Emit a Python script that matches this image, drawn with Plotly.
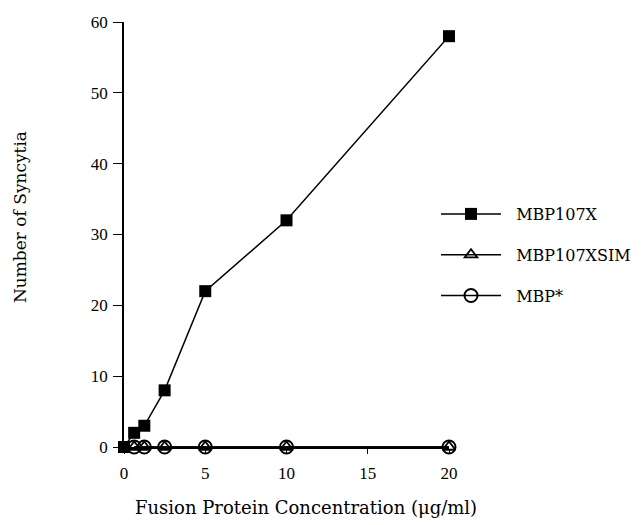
import plotly.graph_objects as go

conc_x = [0, 0.625, 1.25, 2.5, 5, 10, 20]
mbp107x = [0, 2, 3, 8, 22, 32, 58]
conc_zero = [0.625, 1.25, 2.5, 5, 10, 20]
mbp107xsim = [0, 0, 0, 0, 0, 0]
mbp_star = [0, 0, 0, 0, 0, 0]

FONT = "DejaVu Serif"
TICKFONT = "Liberation Serif"
NB = "\u00a0\u00a0"

FIG_W = 700

fig = go.Figure()
fig.add_trace(go.Scatter(
    x=conc_zero, y=mbp_star, name=NB + "MBP*", mode="lines+markers",
    line=dict(color="black", width=1.5),
    marker=dict(symbol="circle-open", size=13, color="black", line=dict(width=2)),
    cliponaxis=False, legendgroup="c", legendrank=3))
fig.add_trace(go.Scatter(
    x=conc_zero, y=mbp107xsim, name=NB + "MBP107XSIM", mode="lines+markers",
    line=dict(color="black", width=1.5),
    marker=dict(symbol="triangle-up-open", size=11, color="black", line=dict(width=1.8)),
    cliponaxis=False, legendgroup="b", legendrank=2))
fig.add_trace(go.Scatter(
    x=conc_x, y=mbp107x, name=NB + "MBP107X", mode="lines+markers",
    line=dict(color="black", width=1.5),
    marker=dict(symbol="square", size=12, color="black"),
    cliponaxis=False, legendgroup="a", legendrank=1))

fig.update_layout(
    width=FIG_W, height=525,
    margin=dict(l=124, r=FIG_W - 449, t=22, b=78),
    paper_bgcolor="white", plot_bgcolor="white",
    font=dict(family=FONT, size=15, color="black"),
    showlegend=True,
    legend=dict(x=0.96, xanchor="left", y=(447 - 255) / 425, yanchor="middle",
                font=dict(family=FONT, size=16, color="black"),
                itemwidth=60, tracegroupgap=17, traceorder="grouped",
                bgcolor="rgba(0,0,0,0)"),
    xaxis=dict(range=[0, 20], tickvals=[0, 5, 10, 15, 20], showgrid=False, zeroline=False,
               showline=True, linecolor="black", linewidth=1.5, ticks="outside",
               ticklen=5, tickcolor="black", automargin=False, ticklabelstandoff=5,
               tickfont=dict(family=TICKFONT, size=17)),
    yaxis=dict(range=[0, 60], tickvals=[0, 10, 20, 30, 40, 50, 60], showgrid=False, zeroline=False,
               showline=True, linecolor="black", linewidth=1.5, ticks="outside",
               ticklen=9, tickcolor="black", automargin=False, ticklabelstandoff=2,
               tickfont=dict(family=TICKFONT, size=17)),
    annotations=[
        dict(text="Fusion Protein Concentration (μg/ml)", xref="paper", yref="paper",
             x=0.56, y=-0.1435, xanchor="center", yanchor="middle", showarrow=False,
             font=dict(family=FONT, size=18)),
        dict(text="Number of Syncytia", xref="paper", yref="paper", textangle=-90,
             x=(20 - 124) / 325, y=0.541, xanchor="center", yanchor="middle", showarrow=False,
             font=dict(family=FONT, size=17)),
    ],
)

fig.write_html("out.html",
               post_script="document.body.style.margin='0';document.body.style.overflow='hidden';"
                           "document.documentElement.style.overflow='hidden';",
               config={"displayModeBar": False})
